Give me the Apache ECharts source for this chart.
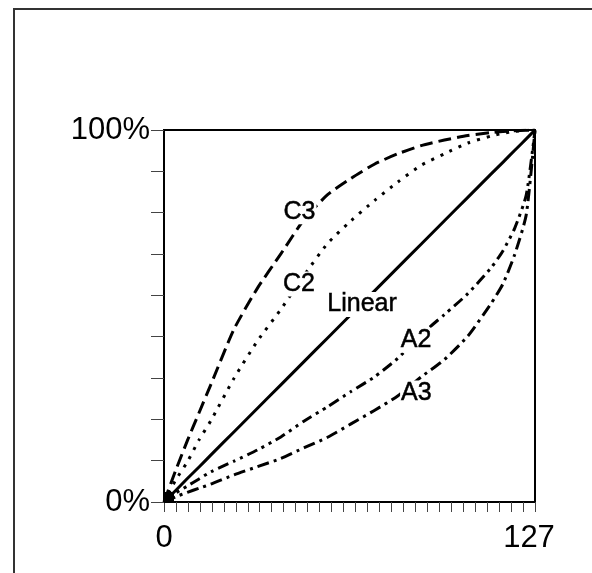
<!DOCTYPE html>
<html><head><meta charset="utf-8">
<script src="https://cdn.jsdelivr.net/npm/echarts@6/dist/echarts.min.js"></script>
<style>html,body{margin:0;padding:0;background:#fff}#c{width:592px;height:573px}</style>
</head><body><div id="c"></div>
<script>
// Input level (0..127)
const xValues = [0,4,8,12,16,24,32,40,48,56,64,72,80,88,96,104,112,116,120,124,127];
// Output (%)
const linear = [0,3.1,6.3,9.4,12.6,18.9,25.2,31.5,37.8,44.1,50.4,56.7,63.0,69.3,75.6,81.9,88.2,91.3,94.5,97.6,100];
const c3 = [0,8.5,16.5,24,31.5,46.5,57.5,66.7,76,82.6,87,90.8,93.6,95.8,97.3,98.5,99.3,99.6,99.8,99.95,100];
const c2 = [0,5.9,10.8,16.7,21.8,33.3,43.3,51.8,61,69.5,75.6,81,86,90.5,93.6,96.5,98.4,99.1,99.6,99.9,100];
const a2 = [0,2.4,4.3,6.2,8.1,11,14,17.5,21.8,25.6,29.7,33.6,38.6,45,50.4,56,63,67.5,73.5,82.5,100];
const a3 = [0,1.4,2.6,3.7,4.8,7.3,9.5,11.7,14.6,17.4,21,24.6,28.5,33.6,38.3,44.6,53.4,58.6,66.4,77.2,100];
// Curve name labels and their anchor (input, output %)
const curveNames = ['C3','C2','Linear','A2','A3'];
const curveLabelPos = [[46.4,78.0],[46.2,58.6],[67.8,53.1],[86.3,43.5],[86.4,29.3]];
// Axis tick labels
const xTickValues = [0,127];
const xTickLabels = ['0','127'];
const yTickValues = [0,100];
const yTickLabels = ['0%','100%'];
const xMinorCount = 31, yMinorCount = 9;

const font = '"Liberation Sans", Arial, sans-serif';
const pairs = arr => xValues.map((x,i)=>[x, arr[i]]);
const xTicks = Array.from({length:xMinorCount+1},(_,i)=>i*127/xMinorCount);
const yTicks = Array.from({length:yMinorCount+1},(_,i)=>i*100/yMinorCount);

function lineSeries(name, arr, type){
  return {name, type:'line', data:pairs(arr), showSymbol:false, symbol:'none', smooth:0.2,
    lineStyle:{color:'#000', width:3, type:type, cap:'butt', join:'round'}, itemStyle:{color:'#000'}, z:3};
}

const linearSeries = lineSeries('Linear', linear, 'solid');
linearSeries.showSymbol = true;
linearSeries.symbol = 'none';
linearSeries.data = linearSeries.data.map((p,i)=> i===0 ? {value:p, symbol:'rect', symbolSize:10, symbolOffset:[5,-5], itemStyle:{color:'#000'}} : p);

const chart = echarts.init(document.getElementById('c'), null, {renderer:'canvas'});
chart.setOption({
  animation:false,
  backgroundColor:'#fff',
  graphic:[{type:'rect', shape:{x:14, y:9, width:900, height:900}, style:{fill:'none', stroke:'#333', lineWidth:2}, silent:true, z:0}],
  grid:{left:164, top:130, width:371, height:372, show:true, borderColor:'#000', borderWidth:2, backgroundColor:'transparent'},
  xAxis:{type:'value', min:0, max:127,
    axisLine:{show:true, lineStyle:{color:'#000', width:2}},
    axisTick:{show:true, length:10, customValues:xTicks, lineStyle:{color:'#444', width:1}},
    axisLabel:{show:true, customValues:xTickValues, margin:21, fontSize:31, color:'#000', fontFamily:font,
      formatter:v=>{const i = xTickValues.indexOf(v); return i===xTickValues.length-1 ? '{r|'+xTickLabels[i]+'}' : (xTickLabels[i] ?? '');},
      rich:{r:{fontSize:31, color:'#000', fontFamily:font, padding:[0,12,0,0]}}},
    splitLine:{show:false}},
  yAxis:{type:'value', min:0, max:100,
    axisLine:{show:true, lineStyle:{color:'#000', width:2}},
    axisTick:{show:true, length:13, customValues:yTicks, lineStyle:{color:'#444', width:1}},
    axisLabel:{show:true, customValues:yTickValues, margin:14, fontSize:31, color:'#000', fontFamily:font, padding:[4,0,0,0],
      formatter:v=>yTickLabels[yTickValues.indexOf(v)] ?? ''},
    splitLine:{show:false}},
  series:[
    linearSeries,
    lineSeries('C3', c3, [13,6]),
    lineSeries('C2', c2, [3,7]),
    lineSeries('A2', a2, [11,5,3,5,3,5]),
    lineSeries('A3', a3, [12,5,3,5]),
    {type:'scatter', symbolSize:0, z:10, itemStyle:{color:'#000', opacity:1},
      data:curveLabelPos.map((p,i)=>({value:p, label:{formatter:curveNames[i]}})),
      label:{show:true, position:'inside', fontSize:25, color:'#000', opacity:1, textBorderWidth:0.5, textBorderColor:'#000', fontFamily:font, backgroundColor:'#fff', padding:[0,1]}}
  ]
});
</script>
</body></html>
